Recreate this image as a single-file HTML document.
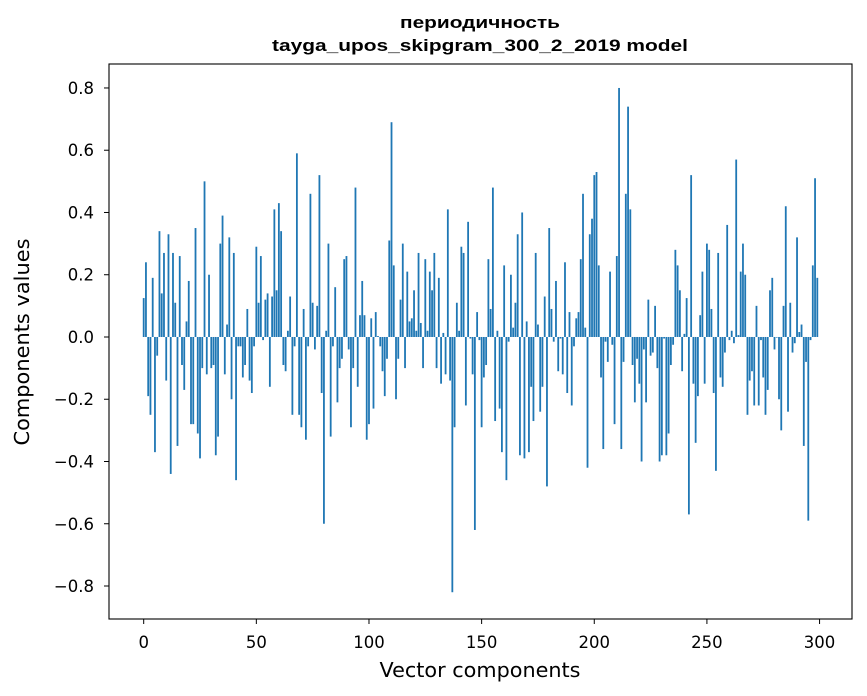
<!DOCTYPE html>
<html><head><meta charset="utf-8"><style>
body{margin:0;background:#fff;}
svg{display:block;font-family:"DejaVu Sans","Liberation Sans",sans-serif;}
</style></head><body>
<svg id="chart" width="867" height="696" viewBox="0 0 867 696" xmlns="http://www.w3.org/2000/svg">
<rect width="867" height="696" fill="#fff"/>
<text x="480" y="28" text-anchor="middle" font-size="17" font-weight="bold" font-family="Liberation Sans, sans-serif" textLength="160" lengthAdjust="spacingAndGlyphs">периодичность</text>
<text x="480" y="51" text-anchor="middle" font-size="17" font-weight="bold" font-family="Liberation Sans, sans-serif" textLength="416" lengthAdjust="spacingAndGlyphs">tayga_upos_skipgram_300_2_2019 model</text>
<g id="bars"></g>
<g id="axes"></g>
<text x="480" y="677" text-anchor="middle" font-size="20.5" textLength="201" lengthAdjust="spacingAndGlyphs">Vector components</text>
<text transform="translate(29,342) rotate(-90)" text-anchor="middle" font-size="20.5" textLength="207" lengthAdjust="spacingAndGlyphs">Components values</text>
</svg>
<script>
const values = [
0.125,0.24,-0.19,-0.25,0.19,-0.37,-0.06,0.34,0.14,0.27,
-0.14,0.33,-0.44,0.27,0.11,-0.35,0.26,-0.09,-0.17,0.05,
0.18,-0.28,-0.28,0.35,-0.31,-0.39,-0.10,0.50,-0.12,0.20,
-0.10,-0.09,-0.38,-0.32,0.30,0.39,-0.12,0.04,0.32,-0.20,
0.27,-0.46,-0.03,-0.03,-0.13,-0.09,0.09,-0.14,-0.18,-0.03,
0.29,0.11,0.26,-0.01,0.12,0.14,-0.16,0.13,0.41,0.15,
0.43,0.34,-0.09,-0.11,0.02,0.13,-0.25,-0.03,0.59,-0.25,
-0.29,0.09,-0.33,-0.03,0.46,0.11,-0.04,0.10,0.52,-0.18,
-0.60,0.02,0.30,-0.32,-0.03,0.16,-0.21,-0.10,-0.07,0.25,
0.26,-0.04,-0.29,-0.10,0.48,-0.16,0.07,0.18,0.07,-0.33,
-0.28,0.06,-0.23,0.08,0.003,-0.03,-0.11,-0.19,-0.07,0.31,
0.69,0.23,-0.20,-0.07,0.12,0.30,-0.10,0.21,0.05,0.06,
0.15,0.02,0.27,0.045,-0.10,0.25,0.02,0.21,0.15,0.27,
-0.10,0.19,-0.15,0.013,-0.12,0.41,-0.14,-0.82,-0.29,0.11,
0.02,0.29,0.27,-0.22,0.37,-0.005,-0.12,-0.62,0.08,-0.01,
-0.29,-0.13,-0.09,0.25,0.09,0.48,-0.27,0.02,-0.23,-0.37,
0.23,-0.46,-0.015,0.20,0.03,0.11,0.33,-0.38,0.40,-0.39,
0.05,-0.37,-0.16,-0.27,0.27,0.04,-0.24,-0.16,0.13,-0.48,
0.35,0.09,-0.015,0.18,-0.11,-0.005,-0.12,0.24,-0.18,0.08,
-0.22,-0.03,0.06,0.08,0.25,0.46,0.03,-0.42,0.33,0.38,
0.52,0.53,0.23,-0.13,-0.36,-0.015,-0.08,0.21,-0.025,-0.28,
0.26,0.80,-0.36,-0.08,0.46,0.74,0.41,-0.09,-0.21,-0.07,
-0.15,-0.40,-0.04,-0.21,0.12,-0.06,-0.05,0.10,-0.10,-0.40,
-0.38,-0.005,-0.38,-0.31,-0.09,-0.025,0.28,0.23,0.15,-0.11,
0.01,0.125,-0.57,0.52,-0.15,-0.34,-0.19,0.07,0.21,-0.15,
0.30,0.28,0.09,-0.18,-0.43,0.27,-0.13,-0.16,-0.05,0.36,
-0.01,0.02,-0.02,0.57,0.006,0.21,0.30,0.20,-0.25,-0.14,
-0.11,-0.22,0.10,-0.22,-0.01,-0.13,-0.25,-0.17,0.15,0.19,
-0.04,-0.002,-0.20,-0.30,0.10,0.42,-0.24,0.11,-0.05,-0.02,
0.32,0.016,0.04,-0.35,-0.08,-0.59,-0.01,0.23,0.51,0.19
];
const xTicks = [0,50,100,150,200,250,300];
const yTicks = [-0.8,-0.6,-0.4,-0.2,0.0,0.2,0.4,0.6,0.8];
const yTickLabels = ["−0.8","−0.6","−0.4","−0.2","0.0","0.2","0.4","0.6","0.8"];

const L=109,R=852,T=64,B=619;
const xmin=-15.4,xmax=314.4,ymin=-0.906,ymax=0.877;
const sx=v=>L+(v-xmin)/(xmax-xmin)*(R-L);
const sy=v=>T+(ymax-v)/(ymax-ymin)*(B-T);
const NS="http://www.w3.org/2000/svg";
const bars=document.getElementById('bars');
values.forEach((v,i)=>{
  const r=document.createElementNS(NS,'rect');
  const x0=sx(i-0.4),x1=sx(i+0.4);
  const y0=sy(Math.max(v,0)),y1=sy(Math.min(v,0));
  r.setAttribute('x',x0);r.setAttribute('width',x1-x0);
  r.setAttribute('y',y0);r.setAttribute('height',Math.max(y1-y0,0.3));
  r.setAttribute('fill','#1f77b4');
  
  
  bars.appendChild(r);
});
const axes=document.getElementById('axes');
const frame=document.createElementNS(NS,'rect');
frame.setAttribute('x',L);frame.setAttribute('y',T);frame.setAttribute('width',R-L);frame.setAttribute('height',B-T);
frame.setAttribute('fill','none');frame.setAttribute('stroke','#000');frame.setAttribute('stroke-width','1.1');


axes.appendChild(frame);
xTicks.forEach(t=>{
  const x=sx(t);
  const l=document.createElementNS(NS,'line');
  l.setAttribute('x1',x);l.setAttribute('x2',x);l.setAttribute('y1',B);l.setAttribute('y2',B+5);l.setAttribute('stroke','#000');
  
  
  axes.appendChild(l);
  const tx=document.createElementNS(NS,'text');
  tx.setAttribute('x',x);tx.setAttribute('y',B+29);tx.setAttribute('text-anchor','middle');tx.setAttribute('font-size','16.5');
  tx.textContent=t;
  
  
  axes.appendChild(tx);
});
yTicks.forEach((t,k)=>{
  const y=sy(t);
  const l=document.createElementNS(NS,'line');
  l.setAttribute('x1',L-5);l.setAttribute('x2',L);l.setAttribute('y1',y);l.setAttribute('y2',y);l.setAttribute('stroke','#000');
  
  
  axes.appendChild(l);
  const tx=document.createElementNS(NS,'text');
  tx.setAttribute('x',L-15);tx.setAttribute('y',y+6);tx.setAttribute('text-anchor','end');tx.setAttribute('font-size','16.5');
  tx.textContent=yTickLabels[k];
  
  
  axes.appendChild(tx);
});
</script>
</body></html>
